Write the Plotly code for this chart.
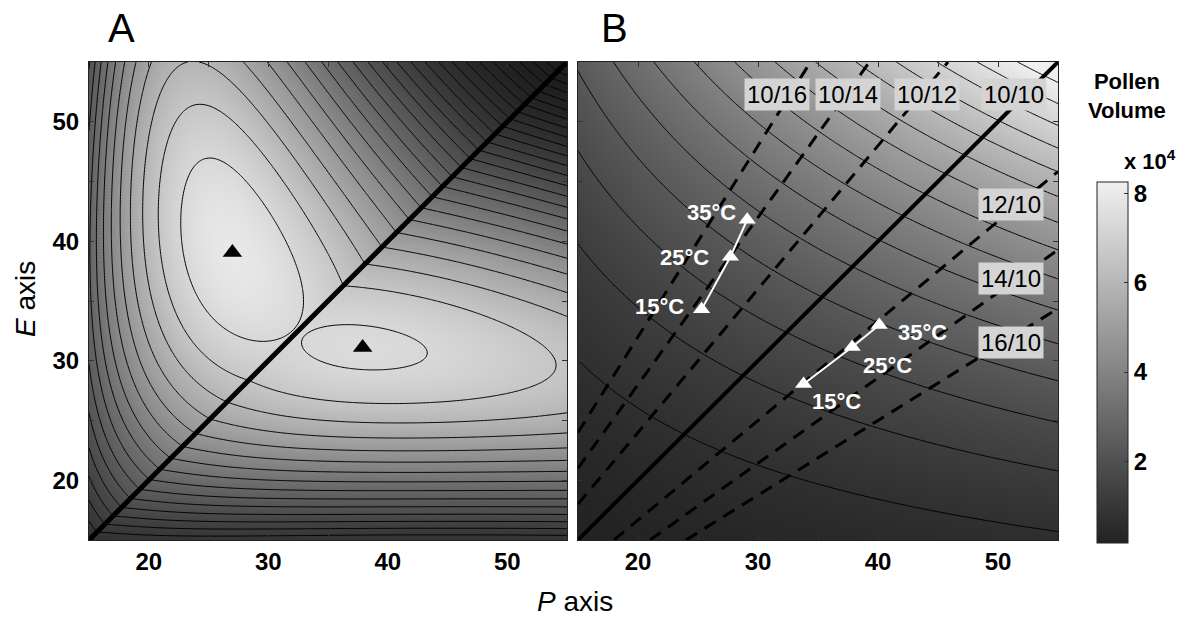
import numpy as np
import plotly.graph_objects as go

# ---------------- shared axis data ----------------
AX_LO, AX_HI = 15, 55
tick_vals = [20, 25, 30, 35, 40, 45, 50]
tick_text = ['<b>20</b>', '', '<b>30</b>', '', '<b>40</b>', '', '<b>50</b>']

# ---------------- Panel A : fitness landscape ----------------
peak_P = [27.0, 37.9]          # black triangles
peak_E = [39.05, 31.1]
# upper landscape (E > P), centred on the upper peak
up_peak = [27.0, 39.0]
up_quad = [0.069, 11.0, -0.448]   # size^2, shape^2, cross coefficients
up_top = 0.86
up_gamma = 0.9
# lower landscape (E < P): control points (P, E, contour index)
lo_peak = [38.0, 31.0]
lo_P = [38.0,
        33.3, 43.0, 37.0, 39.0, 34.5, 39.5, 41.8, 34.5, 36.8, 41.8, 42.9,
        35.0, 31.5,
        52.9, 42.9, 48.5, 48.5, 42.9, 37.3, 31.7,
        42.9, 48.5, 54.6, 31.7, 40.1, 54.6,
        55.0, 55.0, 55.0,
        30.0, 40.0, 50.0, 40.0, 50.0, 40.0, 50.0, 22.0, 30.0, 30.0, 40.0, 50.0]
lo_E = [31.0,
        31.7, 30.45, 33.0, 29.0, 32.7, 32.7, 31.85, 29.9, 29.2, 29.5, 29.8,
        34.2, 29.8,
        29.6, 34.35, 32.4, 27.1, 26.4, 26.3, 27.5,
        37.15, 35.5, 34.4, 25.2, 24.3, 25.7,
        40.0, 45.0, 50.0,
        20.0, 20.0, 20.0, 17.5, 17.5, 15.5, 15.5, 17.0, 17.0, 23.0, 23.0, 23.0]
lo_L = [0.25,
        0, 0, 0, 0, 0, 0, 0, 0, 0, 0, 0,
        -0.45, -0.5,
        -1, -1, -1, -1, -1, -1, -1,
        -2, -2, -2, -2, -2, -2,
        -6.3, -11, -18,
        -7.3, -7.0, -6.8, -10.5, -10.3, -14, -13.8, -11.3, -11, -4.3, -3.8, -3.6]
lo_weight = [4] + [3] * 11 + [2, 2] + [1] * 28

# ---------------- Panel B : pollen volume ----------------
ratio_E_over_P = [1.6, 1.4, 1.2, 1.0, 1 / 1.2, 1 / 1.4, 1 / 1.6]
ratio_labels = ['10/16', '10/14', '10/12', '10/10', '12/10', '14/10', '16/10']
temp_labels = ['15°C', '25°C', '35°C']
grpL_P = [25.3, 27.7, 29.1]
grpL_E = [34.3, 38.7, 41.8]
grpR_P = [33.8, 37.85, 40.1]
grpR_E = [28.05, 31.15, 33.0]
vol_n_intervals = 16
cbar_vals = [20000, 40000, 60000, 80000]
cbar_text = ['<b>2</b>', '<b>4</b>', '<b>6</b>', '<b>8</b>']

# ---------------- label positions (not data) ----------------
ratio_lab_x = [31.6, 37.5, 44.05, 51.3, 51.1, 51.1, 51.1]
ratio_lab_y = [52.3, 52.3, 52.3, 52.3, 43.1, 36.85, 31.5]
tempL_lab_x = [21.8, 23.9, 26.1]
tempL_lab_y = [34.5, 38.6, 42.4]
tempR_lab_x = [36.5, 40.75, 43.7]
tempR_lab_y = [26.55, 29.6, 32.4]

FONT = 'Liberation Sans, Arial, Helvetica, sans-serif'

# ---------------- surfaces ----------------
grid = np.linspace(AX_LO, AX_HI, 321)
PP, EE = np.meshgrid(grid, grid)

D0_up = np.cbrt(up_peak[0] * up_peak[1] ** 2)
R0_up = up_peak[1] / up_peak[0]


def f_upper(P, E):
    D = np.cbrt(P * E * E)
    r = E / P
    x = D - D0_up
    y = 2.0 * (np.sqrt(r / R0_up) - 1.0)
    a, b, c = up_quad
    Q = a * x * x + b * y * y + 2 * c * x * y
    return up_top - np.clip(Q, 0, None) ** up_gamma


D0_lo = np.cbrt(lo_peak[0] * lo_peak[1] ** 2)


def lo_terms(P, E):
    D = np.cbrt(P * E * E)
    s = 1.0 - E / P
    X = (D - D0_lo) / 10.0
    return D, np.stack([s, s * X, s * s, s * X * X, s * s * X, s ** 3, s * X ** 3, s * s * X * X], axis=-1)


cP, cE, cL = np.array(lo_P), np.array(lo_E), np.array(lo_L, dtype=float)
Dc, Mc = lo_terms(cP, cE)
rhs = f_upper(Dc, Dc) - cL
wts = np.array(lo_weight, dtype=float)
coef = np.linalg.lstsq(Mc * wts[:, None], rhs * wts, rcond=None)[0]

F_up = f_upper(PP, EE)
Dg, Mg = lo_terms(PP, EE)
F_lo = f_upper(Dg, Dg) - Mg @ coef
FA = np.where(EE >= PP, F_up, F_lo)

stops = np.linspace(0, 1, 21)
grays = (30 + 202 * stops ** 2.4).astype(int)
cs_A = [[float(t), f'rgb({g},{g},{g})'] for t, g in zip(stops, grays)]

VB = np.pi / 6 * PP * EE ** 2
vmin, vmax = np.pi / 6 * AX_LO ** 3, np.pi / 6 * AX_HI ** 3
vstep = (vmax - vmin) / vol_n_intervals
cs_B = [[0, 'rgb(34,34,34)'], [1, 'rgb(240,240,240)']]

fig = go.Figure()

fig.add_trace(go.Contour(
    x=grid, y=grid, z=FA, xaxis='x', yaxis='y',
    colorscale=cs_A, zmin=float(FA.min()), zmax=float(FA.max()), showscale=False,
    contours=dict(coloring='heatmap', start=-60, end=0, size=1),
    line=dict(color='black', width=1), hoverinfo='skip'))

fig.add_trace(go.Scatter(x=[AX_LO, AX_HI], y=[AX_LO, AX_HI], mode='lines',
                         line=dict(color='black', width=5), xaxis='x', yaxis='y',
                         showlegend=False, hoverinfo='skip'))
fig.add_trace(go.Scatter(x=peak_P, y=peak_E, mode='markers',
                         marker=dict(symbol='triangle-up', size=17, color='black'),
                         xaxis='x', yaxis='y', showlegend=False))

# heatmap only carries the smooth colour bar; the contour trace covers it
fig.add_trace(go.Heatmap(
    x=grid, y=grid, z=VB, xaxis='x2', yaxis='y2', colorscale=cs_B,
    zmin=vmin, zmax=82500, zsmooth='best', hoverinfo='skip',
    colorbar=dict(x=1097 / 1192, xanchor='left', y=1 - 362.5 / 621, yanchor='middle',
                  len=361 / 621, lenmode='fraction', thickness=31, thicknessmode='pixels',
                  outlinecolor='#222', outlinewidth=1, xpad=0, ypad=0,
                  tickvals=cbar_vals, ticktext=cbar_text, ticks='inside', ticklen=4,
                  tickcolor='#333', tickfont=dict(family=FONT, size=24, color='black'))))

fig.add_trace(go.Contour(
    x=grid, y=grid, z=VB, xaxis='x2', yaxis='y2',
    colorscale=cs_B, zmin=vmin, zmax=82500, showscale=False,
    contours=dict(coloring='heatmap', start=vmin + vstep, end=vmax, size=vstep),
    line=dict(color='black', width=1), hoverinfo='skip'))

for k in ratio_E_over_P:
    p0 = max(AX_LO, AX_LO / k)
    p1 = min(AX_HI, AX_HI / k)
    solid = abs(k - 1) < 1e-9
    fig.add_trace(go.Scatter(x=[p0, p1], y=[k * p0, k * p1], mode='lines',
                             line=dict(color='black', width=4 if solid else 3,
                                       dash='solid' if solid else '13px,9px'),
                             xaxis='x2', yaxis='y2', showlegend=False, hoverinfo='skip'))

for gp, ge in [(grpL_P, grpL_E), (grpR_P, grpR_E)]:
    fig.add_trace(go.Scatter(x=gp, y=ge, mode='lines+markers',
                             line=dict(color='white', width=2),
                             marker=dict(symbol='triangle-up', size=15, color='white'),
                             xaxis='x2', yaxis='y2', showlegend=False))

ann = []
for lab, x, y in zip(ratio_labels, ratio_lab_x, ratio_lab_y):
    ann.append(dict(text=lab, x=x, y=y, xref='x2', yref='y2', showarrow=False,
                    xanchor='center', yanchor='middle',
                    font=dict(family=FONT, size=24, color='black'),
                    bgcolor='#d4d4d4', borderpad=2))
for labs, xs, ys in [(temp_labels, tempL_lab_x, tempL_lab_y), (temp_labels, tempR_lab_x, tempR_lab_y)]:
    for lab, x, y in zip(labs, xs, ys):
        ann.append(dict(text='<b>' + lab + '</b>', x=x, y=y, xref='x2', yref='y2', showarrow=False,
                        xanchor='center', yanchor='middle',
                        font=dict(family=FONT, size=22, color='white')))


def paper_text(text, px, py, size, angle=0):
    return dict(text=text, x=px / 1192, y=1 - py / 621, xref='paper', yref='paper',
                showarrow=False, xanchor='center', yanchor='middle', textangle=angle,
                font=dict(family=FONT, size=size, color='black'))


ann += [
    paper_text('A', 121, 28, 40),
    paper_text('B', 614, 28, 40),
    paper_text('<b>Pollen<br>Volume</b>', 1127, 96, 22),
    paper_text('<b>x 10<sup>4</sup></b>', 1150, 160, 22),
    paper_text('<i>P</i> axis', 575, 601, 28),
    paper_text('<i>E</i> axis', 26, 299, 28, -90),
]

axis_common = dict(range=[AX_LO, AX_HI], tickvals=tick_vals, ticktext=tick_text,
                   ticks='inside', ticklen=5, tickcolor='#333', showline=True,
                   linecolor='#222', linewidth=1, mirror='ticks', showgrid=False,
                   zeroline=False, tickfont=dict(family=FONT, size=24, color='black'))
ydom = [1 - 540 / 621, 1 - 62 / 621]

fig.update_layout(
    width=1192, height=621, margin=dict(l=0, r=0, t=0, b=0),
    paper_bgcolor='white', plot_bgcolor='white', showlegend=False,
    xaxis=dict(domain=[89 / 1192, 567 / 1192], anchor='y', ticklabelstandoff=0, **axis_common),
    yaxis=dict(domain=ydom, anchor='x', ticklabelstandoff=4, **axis_common),
    xaxis2=dict(domain=[578 / 1192, 1058 / 1192], anchor='y2', ticklabelstandoff=0, **axis_common),
    yaxis2=dict(domain=ydom, anchor='x2', showticklabels=False, **axis_common),
    annotations=ann,
)

fig.write_html('out.html')
